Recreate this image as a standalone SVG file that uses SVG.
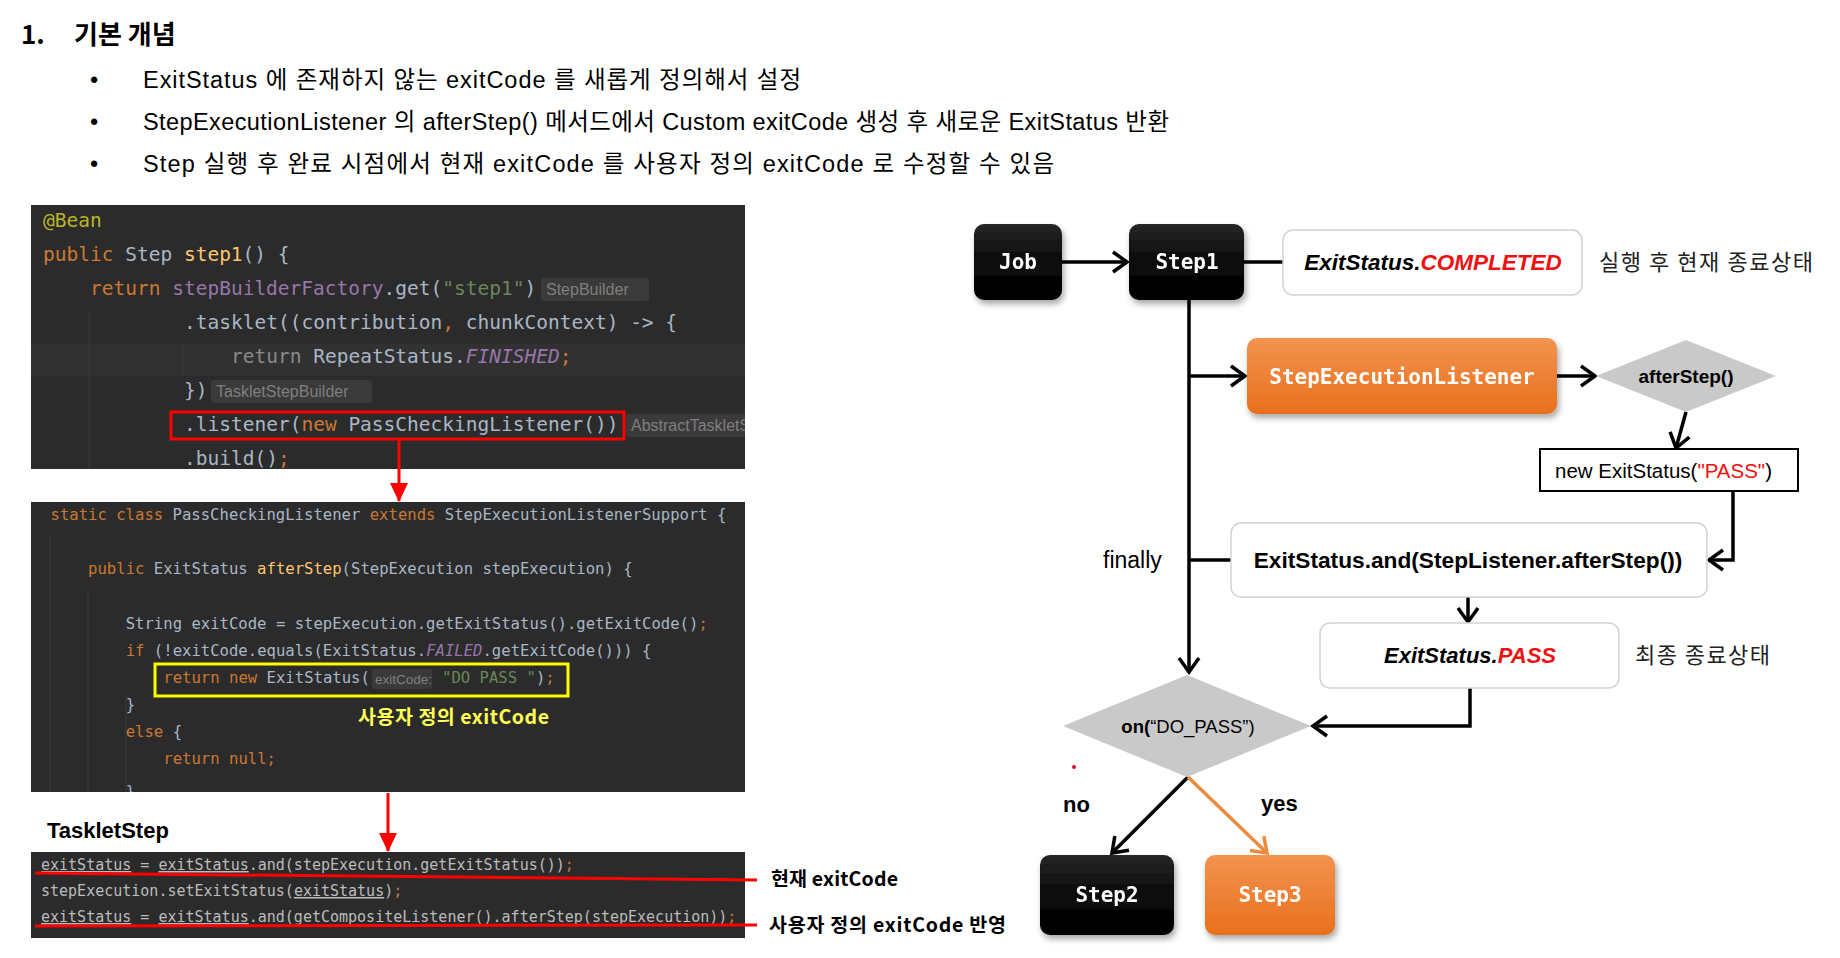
<svg xmlns="http://www.w3.org/2000/svg" width="1840" height="958" viewBox="0 0 1840 958">
<style>
.sans{font-family:"Liberation Sans","Noto Sans CJK KR",sans-serif}
.kr{font-family:"Noto Sans CJK KR","Liberation Sans",sans-serif}
.mono{font-family:"DejaVu Sans Mono","Liberation Mono",monospace}
.c1{font-size:19.5px}
.c2{font-size:15.6px}
.c3{font-size:15px}
.g{fill:#a9b7c6}
.o{fill:#cc7832}
.y{fill:#ffc66d}
.p{fill:#9876aa}
.gr{fill:#6a8759}
.hint{font-family:"Liberation Sans",sans-serif;fill:#7f7f7f}
.hintbg{fill:#3a3a3a}
.guide{stroke:#383838;stroke-width:1.2}
.conn{stroke:#000;stroke-width:3.5;fill:none}
.node-text{font-family:"DejaVu Sans Mono",monospace;font-weight:bold;font-size:21px;fill:#fff;text-anchor:middle}
.wbox{fill:#fff;stroke:#d2d2d2;stroke-width:1.5}
.u{text-decoration:underline}
.bul{font-size:23.5px;fill:#000}
</style>
<defs>
<linearGradient id="blk" x1="0" y1="0" x2="0" y2="1"><stop offset="0" stop-color="#262626"/><stop offset="0.5" stop-color="#0a0a0a"/><stop offset="1" stop-color="#000"/></linearGradient>
<linearGradient id="org" x1="0" y1="0" x2="0" y2="1"><stop offset="0" stop-color="#f2934f"/><stop offset="1" stop-color="#e8701c"/></linearGradient>
<filter id="sh" x="-20%" y="-20%" width="140%" height="150%"><feDropShadow dx="2" dy="4" stdDeviation="3" flood-color="#000" flood-opacity="0.35"/></filter>
<marker id="ah" viewBox="0 0 20 24" refX="17" refY="12" markerWidth="20" markerHeight="24" markerUnits="userSpaceOnUse" orient="auto"><path d="M3,2 L17,12 L3,22" fill="none" stroke="#000" stroke-width="3.5"/></marker>
<marker id="aho" viewBox="0 0 20 24" refX="17" refY="12" markerWidth="20" markerHeight="24" markerUnits="userSpaceOnUse" orient="auto"><path d="M3,2 L17,12 L3,22" fill="none" stroke="#ef8a3c" stroke-width="3.5"/></marker>
<marker id="ahr" viewBox="0 0 20 20" refX="18" refY="10" markerWidth="20" markerHeight="20" markerUnits="userSpaceOnUse" orient="auto"><path d="M0,1 L19,10 L0,19 Z" fill="#ff0000"/></marker>
<clipPath id="cb1"><rect x="31" y="205" width="714" height="264"/></clipPath>
<clipPath id="cb2"><rect x="31" y="502" width="714" height="290"/></clipPath>
</defs>

<!-- heading -->
<g id="heading">
<text x="21" y="44" class="kr" font-size="26" font-weight="bold" fill="#000">1.</text>
<text x="74" y="44" class="kr" font-size="26" font-weight="bold" fill="#000">기본 개념</text>
<text x="90" y="88" class="sans bul">•</text>
<text x="143" y="88" class="sans bul" textLength="658" lengthAdjust="spacing">ExitStatus 에 존재하지 않는 exitCode 를 새롭게 정의해서 설정</text>
<text x="90" y="130" class="sans bul">•</text>
<text x="143" y="130" class="sans bul" textLength="1026" lengthAdjust="spacing">StepExecutionListener 의 afterStep() 메서드에서 Custom exitCode 생성 후 새로운 ExitStatus 반환</text>
<text x="90" y="172" class="sans bul">•</text>
<text x="143" y="172" class="sans bul" textLength="911" lengthAdjust="spacing">Step 실행 후 완료 시점에서 현재 exitCode 를 사용자 정의 exitCode 로 수정할 수 있음</text>
</g>

<!-- code block 1 -->
<g id="code1">
<rect x="31" y="205" width="714" height="264" fill="#2b2b2b"/>
<g clip-path="url(#cb1)">
<rect x="31" y="344" width="714" height="32" fill="#313131"/>
<line class="guide" x1="89" y1="310" x2="89" y2="469"/>
<line class="guide" x1="183" y1="344" x2="183" y2="378"/>
<text class="mono c1" xml:space="preserve"><tspan x="43" y="227" fill="#bbb529">@Bean</tspan></text>
<text class="mono c1" xml:space="preserve" x="43" y="261"><tspan class="o">public</tspan><tspan class="g"> Step </tspan><tspan class="y">step1</tspan><tspan class="g">() {</tspan></text>
<text class="mono c1" xml:space="preserve" x="90" y="295"><tspan class="o">return</tspan><tspan class="g"> </tspan><tspan class="p">stepBuilderFactory</tspan><tspan class="g">.get(</tspan><tspan class="gr">"step1"</tspan><tspan class="g">)</tspan></text>
<rect class="hintbg" x="541" y="278" width="108" height="23" rx="3"/>
<text class="hint" x="546" y="295" font-size="16">StepBuilder</text>
<text class="mono c1" xml:space="preserve" x="184" y="329"><tspan class="g">.tasklet((contribution</tspan><tspan class="o">,</tspan><tspan class="g"> chunkContext) -&gt; {</tspan></text>
<text class="mono c1" xml:space="preserve" x="231" y="363"><tspan fill="#8a8a8a">return</tspan><tspan class="g"> RepeatStatus.</tspan><tspan class="p" font-style="italic">FINISHED</tspan><tspan class="o">;</tspan></text>
<text class="mono c1" xml:space="preserve" x="184" y="397"><tspan class="g">})</tspan></text>
<rect class="hintbg" x="211" y="380" width="161" height="23" rx="3"/>
<text class="hint" x="216" y="397" font-size="16">TaskletStepBuilder</text>
<text class="mono c1" xml:space="preserve" x="184" y="431"><tspan class="g">.listener(</tspan><tspan class="o">new</tspan><tspan class="g"> PassCheckingListener())</tspan></text>
<rect class="hintbg" x="626" y="414" width="140" height="23" rx="3"/>
<text class="hint" x="631" y="431" font-size="16">AbstractTaskletStepBuilder</text>
<text class="mono c1" xml:space="preserve" x="184" y="465"><tspan class="g">.build()</tspan><tspan class="o">;</tspan></text>
</g>
<rect x="171" y="412" width="453" height="27" fill="none" stroke="#ff0000" stroke-width="3"/>
</g>

<!-- code block 2 -->
<g id="code2">
<rect x="31" y="502" width="714" height="290" fill="#2b2b2b"/>
<g clip-path="url(#cb2)">
<line class="guide" x1="50" y1="535" x2="50" y2="792"/>
<line class="guide" x1="88" y1="590" x2="88" y2="792"/>
<line class="guide" x1="126" y1="695" x2="126" y2="792"/>
<text class="mono c2" xml:space="preserve" x="50.5" y="520"><tspan class="o">static class</tspan><tspan class="g"> PassCheckingListener </tspan><tspan class="o">extends</tspan><tspan class="g"> StepExecutionListenerSupport {</tspan></text>
<text class="mono c2" xml:space="preserve" x="88.1" y="574"><tspan class="o">public</tspan><tspan class="g"> ExitStatus </tspan><tspan class="y">afterStep</tspan><tspan class="g">(StepExecution stepExecution) {</tspan></text>
<text class="mono c2" xml:space="preserve" x="125.7" y="629"><tspan class="g">String exitCode = stepExecution.getExitStatus().getExitCode()</tspan><tspan class="o">;</tspan></text>
<text class="mono c2" xml:space="preserve" x="125.7" y="656"><tspan class="o">if</tspan><tspan class="g"> (!exitCode.equals(ExitStatus.</tspan><tspan class="p" font-style="italic">FAILED</tspan><tspan class="g">.getExitCode())) {</tspan></text>
<text class="mono c2" xml:space="preserve" x="163.3" y="683"><tspan class="o">return new</tspan><tspan class="g"> ExitStatus(</tspan></text>
<rect class="hintbg" x="372" y="669" width="60" height="20" rx="3"/>
<text class="hint" x="375" y="684" font-size="13.5">exitCode:</text>
<text class="mono c2" xml:space="preserve" x="442" y="683"><tspan class="gr">"DO PASS "</tspan><tspan class="g">)</tspan><tspan class="o">;</tspan></text>
<text class="mono c2" xml:space="preserve" x="125.7" y="710"><tspan class="g">}</tspan></text>
<text class="mono c2" xml:space="preserve" x="125.7" y="737"><tspan class="o">else</tspan><tspan class="g"> {</tspan></text>
<text class="mono c2" xml:space="preserve" x="163.3" y="764"><tspan class="o">return null;</tspan></text>
<text class="mono c2" xml:space="preserve" x="125.7" y="797"><tspan class="g">}</tspan></text>
</g>
<rect x="155" y="664" width="413" height="32" fill="none" stroke="#ffff00" stroke-width="3"/>
<text class="kr" x="358" y="724" font-size="19.5" font-weight="bold" fill="#ffff55" textLength="191" lengthAdjust="spacing">사용자 정의 exitCode</text>
</g>

<!-- TaskletStep -->
<g id="tasklet-label">
<text class="sans" x="47" y="838" font-size="22" font-weight="bold" fill="#000">TaskletStep</text>
</g>

<!-- code block 3 -->
<g id="code3">
<rect x="31" y="852" width="714" height="86" fill="#2b2b2b"/>
<text class="mono c3" xml:space="preserve" x="41" y="870" fill="#bcbcbc"><tspan class="u">exitStatus</tspan><tspan> = </tspan><tspan class="u">exitStatus</tspan><tspan>.and(stepExecution.getExitStatus())</tspan><tspan class="o">;</tspan></text>
<text class="mono c3" xml:space="preserve" x="41" y="896" fill="#bcbcbc"><tspan>stepExecution.setExitStatus(</tspan><tspan class="u">exitStatus</tspan><tspan>)</tspan><tspan class="o">;</tspan></text>
<text class="mono c3" xml:space="preserve" x="41" y="922" fill="#bcbcbc"><tspan class="u">exitStatus</tspan><tspan> = </tspan><tspan class="u">exitStatus</tspan><tspan>.and(getCompositeListener().afterStep(stepExecution))</tspan><tspan class="o">;</tspan></text>
<line x1="35" y1="873" x2="757" y2="880" stroke="#ff0000" stroke-width="3"/>
<line x1="35" y1="926" x2="757" y2="925" stroke="#ff0000" stroke-width="3"/>
<text class="kr" x="771" y="886" font-size="19.5" font-weight="bold" fill="#000" textLength="127" lengthAdjust="spacing">현재 exitCode</text>
<text class="kr" x="769" y="932" font-size="19.5" font-weight="bold" fill="#000" textLength="237" lengthAdjust="spacing">사용자 정의 exitCode 반영</text>
</g>

<!-- left red arrows -->
<g id="left-arrows">
<line x1="399" y1="439" x2="399" y2="501" stroke="#ff0000" stroke-width="3" marker-end="url(#ahr)"/>
<line x1="388" y1="793" x2="388" y2="851" stroke="#ff0000" stroke-width="3" marker-end="url(#ahr)"/>
</g>

<!-- connectors -->
<g id="connectors">
<line class="conn" x1="1062" y1="262" x2="1127" y2="262" marker-end="url(#ah)"/>
<line class="conn" x1="1244" y1="262" x2="1283" y2="262"/>
<line class="conn" x1="1189" y1="300" x2="1189" y2="672" marker-end="url(#ah)"/>
<line class="conn" x1="1189" y1="376" x2="1245" y2="376" marker-end="url(#ah)"/>
<line class="conn" x1="1557" y1="376" x2="1595" y2="376" marker-end="url(#ah)"/>
<line class="conn" x1="1686" y1="412" x2="1676" y2="448" marker-end="url(#ah)"/>
<polyline class="conn" points="1733,491 1733,560 1709,560" marker-end="url(#ah)"/>
<line class="conn" x1="1189" y1="560" x2="1231" y2="560"/>
<line class="conn" x1="1468" y1="597" x2="1468" y2="622" marker-end="url(#ah)"/>
<polyline class="conn" points="1470,688 1470,726 1313,726" marker-end="url(#ah)"/>
<line class="conn" x1="1188" y1="777" x2="1112" y2="853" marker-end="url(#ah)"/>
<line x1="1188" y1="777" x2="1267" y2="853" stroke="#ef8a3c" stroke-width="3.5" marker-end="url(#aho)"/>
<text class="sans" x="1103" y="568" font-size="23" fill="#000">finally</text>
<text class="sans" x="1063" y="812" font-size="22" font-weight="bold" fill="#000">no</text>
<text class="sans" x="1261" y="811" font-size="22" font-weight="bold" fill="#000">yes</text>
<circle cx="1074" cy="767" r="2" fill="#e0003c"/>
</g>

<!-- nodes -->
<g id="job" filter="url(#sh)">
<rect x="974" y="224" width="88" height="76" rx="10" fill="url(#blk)"/>
<text class="node-text" x="1018" y="269">Job</text>
</g>
<g id="step1" filter="url(#sh)">
<rect x="1129" y="224" width="115" height="76" rx="10" fill="url(#blk)"/>
<text class="node-text" x="1187" y="269">Step1</text>
</g>
<g id="completed">
<rect class="wbox" x="1283" y="230" width="299" height="65" rx="10"/>
<text class="sans" x="1433" y="270" font-size="22.5" font-weight="bold" font-style="italic" text-anchor="middle"><tspan fill="#000">ExitStatus.</tspan><tspan fill="#ee1111">COMPLETED</tspan></text>
</g>
<g id="completed-note">
<text class="kr" x="1599" y="270" font-size="22" fill="#222" textLength="214" lengthAdjust="spacing">실행 후 현재 종료상태</text>
</g>
<g id="listener" filter="url(#sh)">
<rect x="1247" y="338" width="310" height="76" rx="10" fill="url(#org)"/>
<text class="node-text" x="1402" y="384">StepExecutionListener</text>
</g>
<g id="afterstep">
<polygon points="1596,376 1686,340 1776,376 1686,412" fill="#c9c9c9"/>
<text class="sans" x="1686" y="383" font-size="19" font-weight="bold" text-anchor="middle" fill="#000">afterStep()</text>
</g>
<g id="new-exitstatus">
<rect x="1540" y="449" width="258" height="42" fill="#fff" stroke="#000" stroke-width="2"/>
<text class="sans" x="1555" y="478" font-size="20.5" fill="#000">new ExitStatus(<tspan fill="#ee1111">"PASS"</tspan>)</text>
</g>
<g id="and">
<rect class="wbox" x="1231" y="523" width="476" height="74" rx="10"/>
<text class="sans" x="1468" y="568" font-size="22.7" font-weight="bold" text-anchor="middle" fill="#000">ExitStatus.and(StepListener.afterStep())</text>
</g>
<g id="pass">
<rect class="wbox" x="1320" y="623" width="299" height="65" rx="10"/>
<text class="sans" x="1470" y="663" font-size="22" font-weight="bold" font-style="italic" text-anchor="middle"><tspan fill="#000">ExitStatus.</tspan><tspan fill="#ee1111">PASS</tspan></text>
</g>
<g id="pass-note">
<text class="kr" x="1635" y="663" font-size="22" fill="#222" textLength="135" lengthAdjust="spacing">최종 종료상태</text>
</g>
<g id="on-decision">
<polygon points="1063,726 1187,675 1311,726 1187,777" fill="#c9c9c9"/>
<text class="sans" x="1188" y="733" font-size="18.5" text-anchor="middle" fill="#000"><tspan font-weight="bold">on(</tspan>“DO_PASS”)</text>
</g>
<g id="step2" filter="url(#sh)">
<rect x="1040" y="855" width="134" height="80" rx="10" fill="url(#blk)"/>
<text class="node-text" x="1107" y="902">Step2</text>
</g>
<g id="step3" filter="url(#sh)">
<rect x="1205" y="855" width="130" height="80" rx="10" fill="url(#org)"/>
<text class="node-text" x="1270" y="902">Step3</text>
</g>
</svg>
